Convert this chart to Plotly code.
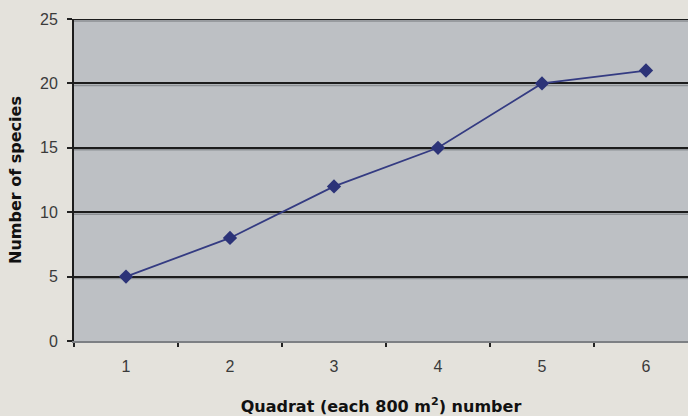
import plotly.graph_objects as go

# Species counts per quadrat
quadrats = [1, 2, 3, 4, 5, 6]
species = [5, 8, 12, 15, 20, 21]
y_ticks = [0, 5, 10, 15, 20, 25]

PAPER = "#e4e2dc"
PLOT_BG = "#bdc0c4"
LINE = "#343b82"
FONT = "Liberation Sans, Arial, sans-serif"
TITLE_FONT = "DejaVu Sans, Verdana, sans-serif"
TICK_FONT = dict(family=FONT, size=16, color="#3a3a3a")

fig = go.Figure()
fig.add_trace(go.Scatter(
    x=quadrats, y=species, mode="lines+markers",
    line=dict(color=LINE, width=1.8),
    marker=dict(symbol="diamond", size=11, color="#2c3378"),
    hoverinfo="x+y", showlegend=False,
))

# dark horizontal rules with a faint shadow beneath each
shapes = []
for v in y_ticks[1:]:
    shapes.append(dict(type="line", xref="paper", x0=0, x1=1,
                       yref="y", ysizemode="pixel", yanchor=v, y0=-2, y1=-2,
                       line=dict(color="#8c8f93", width=1.5), layer="below"))
# top border continuing into its tick
shapes.append(dict(type="line", xref="paper", x0=-0.007, x1=1, yref="y",
                   y0=y_ticks[-1], y1=y_ticks[-1],
                   line=dict(color="#1c1c1c", width=2)))

fig.update_layout(
    width=688, height=416,
    margin=dict(l=74, r=0, t=19, b=75),
    paper_bgcolor=PAPER, plot_bgcolor=PLOT_BG,
    font=dict(family=FONT, size=15, color="#333333"),
    shapes=shapes,
    xaxis=dict(
        range=[0.5, 6.404], tickvals=quadrats, ticks="", tickfont=TICK_FONT,
        ticklabelstandoff=10, showgrid=False, zeroline=False,
        showline=True, linecolor="#7d8084", linewidth=2,
        minor=dict(tick0=0.5, dtick=1, ticks="outside", ticklen=4,
                   tickcolor="#222", tickwidth=1.5, showgrid=False),
        title=dict(text="<b>Quadrat (each 800 m<sup>2</sup>) number</b>",
                   font=dict(family=TITLE_FONT, size=16, color="#111111"),
                   standoff=27),
    ),
    yaxis=dict(
        range=[0, 25], tickvals=y_ticks, ticks="outside", ticklen=5,
        tickcolor="#222", tickwidth=1.5, ticklabelstandoff=6, tickfont=TICK_FONT,
        showgrid=True, gridcolor="#1c1c1c", gridwidth=2, zeroline=False,
        showline=True, linecolor="#1c1c1c", linewidth=2,
        title=dict(text="<b>Number of species</b>",
                   font=dict(family=TITLE_FONT, size=16, color="#111111"),
                   standoff=14),
    ),
)

fig.write_html("out.html")
